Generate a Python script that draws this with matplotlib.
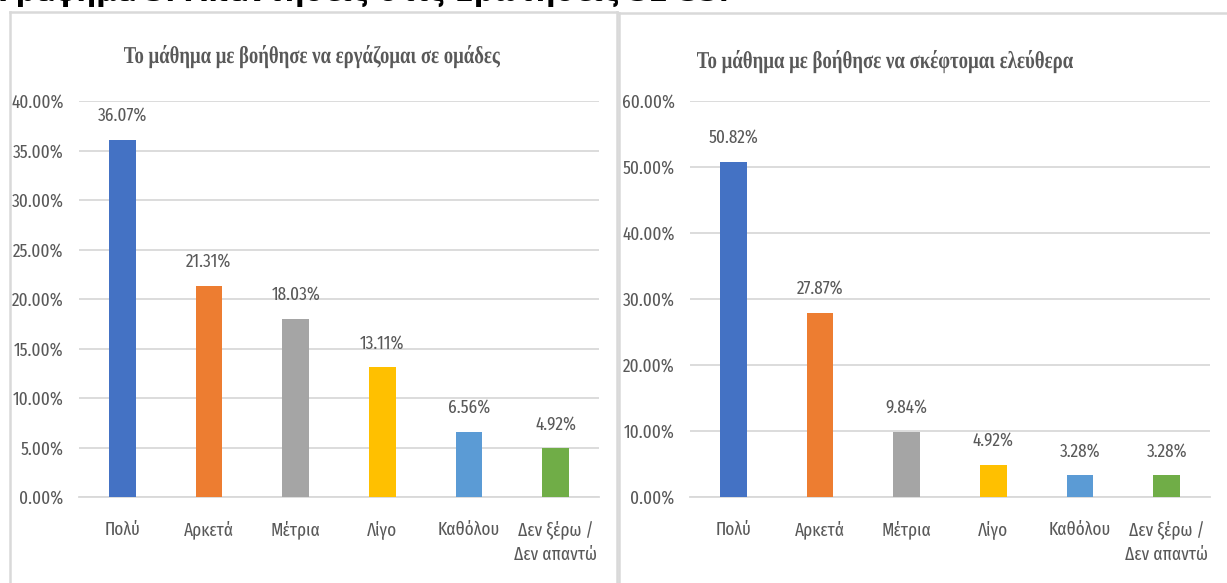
import matplotlib.pyplot as plt
from matplotlib.lines import Line2D
from matplotlib.patches import PathPatch
from matplotlib.textpath import TextPath
from matplotlib.font_manager import FontProperties
from matplotlib.transforms import Affine2D, IdentityTransform

# data
categories = ["Πολύ", "Αρκετά", "Μέτρια", "Λίγο", "Καθόλου", "Δεν ξέρω /\nΔεν απαντώ"]
groups_vals = [36.07, 21.31, 18.03, 13.11, 6.56, 4.92]   # εργάζομαι σε ομάδες
free_vals = [50.82, 27.87, 9.84, 4.92, 3.28, 3.28]       # σκέφτομαι ελεύθερα
colors = ["#4472C4", "#ED7D31", "#A5A5A5", "#FFC000", "#5B9BD5", "#70AD47"]

plt.rcParams['font.family'] = ['Fira Sans Extra Condensed', 'Roboto Condensed', 'DejaVu Sans']
plt.rcParams['font.weight'] = 'normal'

W, H = 1227, 583
fig = plt.figure(figsize=(W / 100, H / 100), dpi=100)
txt = "#595959"
grid = "#D9D9D9"
fs = 13.5


def px_axes(x0, x1, ytop, ybot):
    return fig.add_axes([x0 / W, (H - ybot) / H, (x1 - x0) / W, (ybot - ytop) / H])


def squeezed_title(s, cx, cy, width, cap):
    # narrow serif heading: draw the glyph outlines and squeeze them horizontally
    tp = TextPath((0, 0), s, size=100, prop=FontProperties(family='Liberation Serif', weight='bold'))
    ext = tp.get_extents()
    sx = width / ext.width
    sy = cap / 66.0
    tr = (Affine2D().translate(-ext.x0 - ext.width / 2, -33)
          .scale(sx, sy).translate(cx, H - cy))
    fig.add_artist(PathPatch(tr.transform_path(tp), transform=IdentityTransform(),
                             color=txt, lw=0))


def draw(ax, vals, ymax, step):
    xs = range(len(vals))
    ax.bar(xs, vals, width=0.31, color=colors, zorder=3)
    ax.set_xlim(-0.5, len(vals) - 0.5)
    ax.set_ylim(0, ymax)
    ticks = [i * step for i in range(int(ymax / step) + 1)]
    ax.set_yticks(ticks)
    ax.set_yticklabels([f"{t:.2f}%" for t in ticks])
    ax.grid(axis='y', color=grid, lw=1.3, zorder=0)
    for s in ax.spines.values():
        s.set_visible(False)
    ax.spines['bottom'].set_visible(True)
    ax.spines['bottom'].set_color(grid)
    ax.spines['bottom'].set_linewidth(1.3)
    ax.tick_params(axis='both', length=0, labelsize=fs, colors=txt, pad=11)
    ax.tick_params(axis='x', pad=17)
    ax.set_xticks(list(xs))
    ax.set_xticklabels(categories, linespacing=1.45, va='top')
    for x, v in zip(xs, vals):
        ax.annotate(f"{v:.2f}%", (x, v), xytext=(0, 11), textcoords='offset points',
                    ha='center', va='bottom', fontsize=fs, color=txt)


ax1 = px_axes(79, 599, 101, 497)
draw(ax1, groups_vals, 40, 5)
squeezed_title("Το μάθημα με βοήθησε να εργάζομαι σε ομάδες", 312, 55, 376, 16)

ax2 = px_axes(690, 1210, 101, 497)
draw(ax2, free_vals, 60, 10)
squeezed_title("Το μάθημα με βοήθησε να σκέφτομαι ελεύθερα", 885, 60, 376, 16)

# panel frames
for (xa, ya), (xb, yb) in [((10, 12), (617, 12)), ((10, 12), (10, 583)), ((617, 12), (617, 583)),
                            ((619, 13), (1227, 13)), ((619, 13), (619, 583))]:
    fig.add_artist(Line2D([xa / W, xb / W], [1 - ya / H, 1 - yb / H], color=grid, lw=1.8))

# heading above the panels
fig.text(-2 / W, 1 - 1 / H, "Γράφημα 3: Απαντήσεις στις Ερωτήσεις 32-33.", ha='left',
         va='baseline', fontsize=20, weight='bold', color='black', family='DejaVu Sans')

fig.savefig("out.png", dpi=100)
